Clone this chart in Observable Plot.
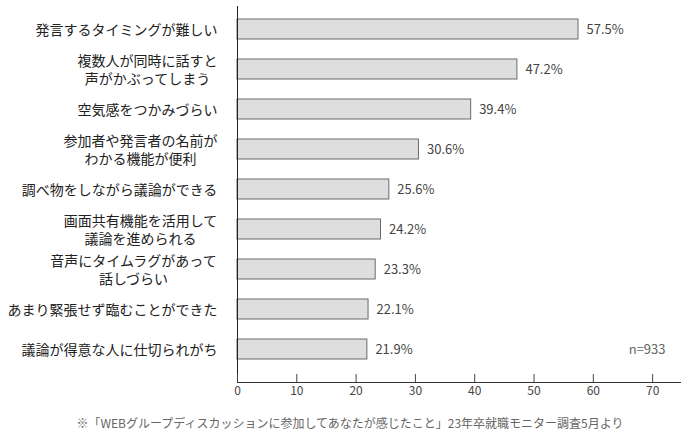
<!DOCTYPE html>
<html><head><meta charset="utf-8">
<script src="https://cdn.jsdelivr.net/npm/d3@7"></script>
<script src="https://cdn.jsdelivr.net/npm/@observablehq/plot@0.6"></script>
<style>
body{margin:0;background:#fff;font-family:"Noto Sans CJK JP",sans-serif;}
#chart svg{display:block;}
#caption{width:700px;text-align:center;font-size:12px;color:#666;line-height:18px;margin-top:9px;}
</style></head><body>
<div id="chart"></div>
<div id="caption"></div>
<script>
const categories = [
  "発言するタイミングが難しい",
  "複数人が同時に話すと\n声がかぶってしまう",
  "空気感をつかみづらい",
  "参加者や発言者の名前が\nわかる機能が便利",
  "調べ物をしながら議論ができる",
  "画面共有機能を活用して\n議論を進められる",
  "音声にタイムラグがあって\n話しづらい",
  "あまり緊張せず臨むことができた",
  "議論が得意な人に仕切られがち"
];
const values = [57.5, 47.2, 39.4, 30.6, 25.6, 24.2, 23.3, 22.1, 21.9];
const xTicks = [0, 10, 20, 30, 40, 50, 60, 70];
const sampleNote = "n=933";
const captionText = "※「WEBグループディスカッションに参加してあなたが感じたこと」23年卒就職モニター調査5月より";

const data = categories.map((c, i) => ({category: c, value: values[i]}));

const ctx = document.createElement("canvas").getContext("2d");
ctx.font = '14px "Noto Sans CJK JP"';
const blockWidth = s => Math.max(...s.split("\n").map(l => ctx.measureText(l).width));

const plot = Plot.plot({
  width: 700, height: 405,
  marginLeft: 237, marginRight: 20, marginTop: 6, marginBottom: 23,
  style: {fontFamily: '"Noto Sans CJK JP", sans-serif', color: "#333", background: "#fff"},
  x: {domain: [0, 74.7], label: null},
  y: {domain: categories, paddingInner: 0.5, paddingOuter: 0.306, insetBottom: 9.4, label: null, axis: null},
  marks: [
    Plot.barX(data, {x: "value", y: "category", fill: "#dedede", stroke: "#6a6a6a", strokeWidth: 1}),
    Plot.text(data, {x: "value", y: "category", text: d => d.value.toFixed(1) + "%", textAnchor: "start", dx: 8, fontSize: 13, fill: "#444"}),
    ...categories.map(c => Plot.text([c], {
      y: d => d, text: d => d, frameAnchor: "left", textAnchor: "middle",
      lineHeight: 1.27, fontSize: 14, fill: "#222", dx: -(20 + blockWidth(c) / 2)
    })),
    Plot.text([{category: categories[categories.length - 1], note: sampleNote}], {
      y: "category", text: "note", frameAnchor: "right", textAnchor: "end", dx: -15, fontSize: 13, fill: "#666"
    }),
    Plot.ruleX([0], {stroke: "#222"}),
    Plot.frame({anchor: "bottom", stroke: "#333"}),
    Plot.axisX(xTicks, {tickSize: -8, tickPadding: 12, fontSize: 12, color: "#444", tickFormat: d => String(d)})
  ]
});
document.getElementById("chart").append(plot);
document.getElementById("caption").textContent = captionText;
</script>
</body></html>
